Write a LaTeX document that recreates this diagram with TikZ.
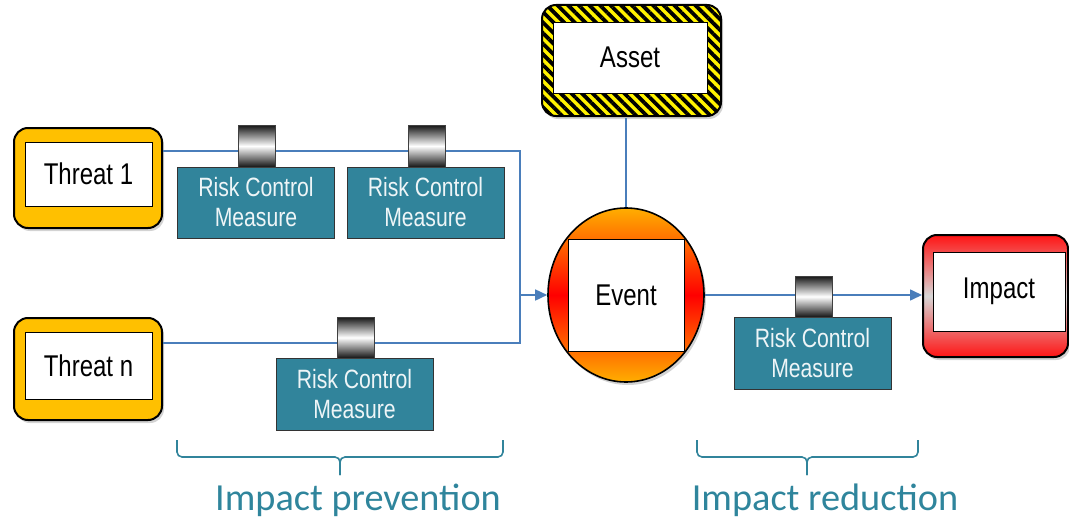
\documentclass[tikz,border=0pt]{standalone}
\usepackage{fontspec}
\setmainfont{Liberation Sans}
\newfontfamily\boxfont[FakeStretch=0.8]{Liberation Sans}
\newfontfamily\calibfont{Carlito}
\usetikzlibrary{shapes.geometric,arrows.meta,shadows,patterns.meta}
\definecolor{teal1}{HTML}{31849B}
\definecolor{labteal}{HTML}{2F859C}
\definecolor{lineblue}{HTML}{4A7EBB}
\definecolor{threatyellow}{HTML}{FFC000}
\definecolor{evorange}{HTML}{FFAE00}
\definecolor{impred}{HTML}{FF1414}
\begin{document}
\begin{tikzpicture}[x=1pt,y=-1pt,
  shadowed/.style={drop shadow={opacity=0.35,shadow xshift=2pt,shadow yshift=-3pt}},
  outerbox/.style={draw=black, line width=2pt, rounded corners=14pt, shadowed, inner sep=0pt},
  innerbox/.style={draw=black, line width=0.9pt, fill=white, inner sep=0pt, font=\boxfont\fontsize{30}{34}\selectfont},
  threat/.style={outerbox, fill=threatyellow},
  rcm/.style={draw=black!80, line width=0.9pt, fill=teal1, text=white!92!teal1, align=center,
    font=\boxfont\fontsize{26.5}{30}\selectfont, inner sep=0pt, minimum width=157pt, minimum height=71pt},
  barrel/.style={draw=black!75, line width=0.9pt, top color=black!92, bottom color=black!92,
    middle color=white, inner sep=0pt, minimum width=37pt, minimum height=42pt},
  conn/.style={draw=lineblue, line width=1.6pt},
  arr/.style={conn, -{Triangle[length=12pt,width=11pt]}},
  bracestyle/.style={draw=teal1, line width=1.6pt, rounded corners=5pt},
  lab/.style={anchor=base, text=labteal, font=\calibfont\fontsize{38.3}{40}\selectfont}
]
\useasboundingbox (0,0) rectangle (1069,519);

% Threats
\node[threat, minimum width=148pt, minimum height=100pt] (t1) at (88,178) {};
\node[innerbox, minimum width=127pt, minimum height=64pt] (t1i) at (88.5,174) {Threat 1};
\node[threat, minimum width=148pt, minimum height=102pt] (tn) at (88,369) {};
\node[innerbox, minimum width=127pt, minimum height=67pt] (tni) at (88.5,365.5) {Threat n};

% Asset
\node[outerbox, preaction={fill=yellow}, pattern={Lines[angle=-45,distance=7.5pt,line width=3.8pt]},
  pattern color=black, minimum width=179pt, minimum height=111pt] (as) at (631.5,60.5) {};
\node[innerbox, minimum width=154pt, minimum height=71pt] (asi) at (630,57.5) {Asset};

% Event
\node[ellipse, draw=black, line width=1.6pt, shadowed, top color=evorange, bottom color=evorange,
  middle color=red, minimum width=156pt, minimum height=174pt, inner sep=0pt] (ev) at (626,295) {};
\node[innerbox, minimum width=116pt, minimum height=112pt] (evi) at (626,295) {Event};

% Impact
\node[outerbox, top color=impred, bottom color=impred, middle color=black!16,
  minimum width=145pt, minimum height=122pt] (im) at (995.5,296) {};
\node[innerbox, minimum width=132pt, minimum height=79pt] (imi) at (999,291.5) {Impact};

% connectors
\coordinate (jt) at (520,151);
\coordinate (jb) at (520,343);
\coordinate (jm) at (520,295);
\draw[conn] (t1.east |- jt) -- (jt) -- (jb) -- (tn.east |- jb);
\draw[arr] (jm) -- (ev.west);
\draw[conn] (ev.north) -- (ev.north |- as.south);
\draw[arr] (ev.east) -- (im.west |- ev.east);

% risk control measures
\node[rcm] (r1) at (256,202.5) {Risk Control\\Measure};
\node[barrel] (b1) at (257,146) {};
\node[rcm] (r2) at (425.5,202.5) {Risk Control\\Measure};
\node[barrel] (b2) at (427,146) {};
\node[rcm, minimum height=72pt] (r3) at (354.5,394) {Risk Control\\Measure};
\node[barrel, minimum height=41pt] (b3) at (355.5,337.5) {};
\node[rcm, minimum height=72pt] (r4) at (812.5,353) {Risk Control\\Measure};
\node[barrel, minimum height=41pt] (b4) at (813.5,296.5) {};

% braces
\draw[bracestyle] (177,440) -- (177,457) -- (340,457) -- (340,475);
\draw[bracestyle] (503,440) -- (503,457) -- (340,457) -- (340,475);
\draw[bracestyle] (697,440) -- (697,457) -- (807,457) -- (807,475);
\draw[bracestyle] (918,440) -- (918,457) -- (807,457) -- (807,475);

\node[lab] (lp) at (358,510) {Impact prevention};
\node[lab] (lr) at (825,510) {Impact reduction};
\end{tikzpicture}
\end{document}
